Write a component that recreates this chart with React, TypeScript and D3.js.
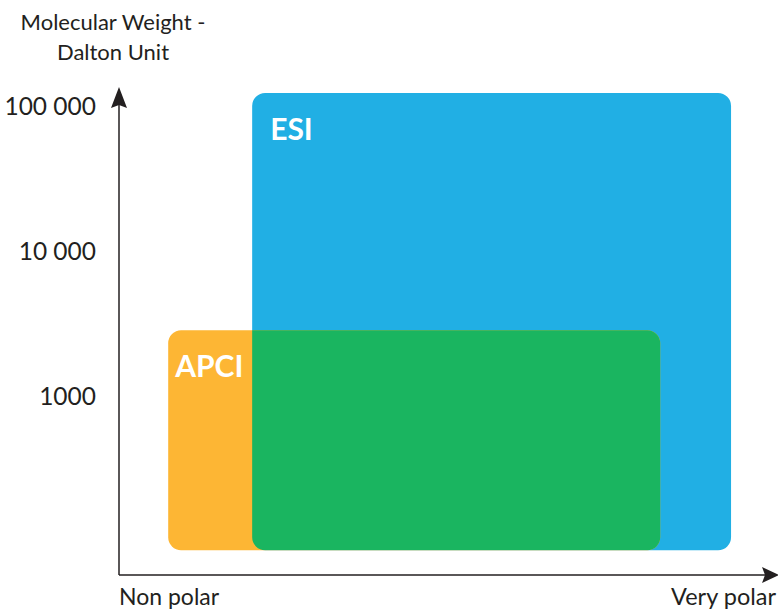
import React from "react";
import * as d3 from "d3";

const W = 778, H = 610;
const yTicks = [1000, 10000, 100000];
const yTickLabels = ["1000", "10 000", "100 000"];
const techniques = ["ESI", "APCI"];
const polarityStart = [20.3, 7.5];
const polarityEnd = [93.3, 82.5];
const weightMin = [85, 85];
const weightMax = [121000, 2800];
const colors = ["#21afe4", "#fdb634"];
const overlapColor = "#1ab560";

const x = d3.scaleLinear().domain([0, 100]).range([119, 775]);
const y = d3.scaleLog().domain([1000, 100000]).range([395, 105]);

function roundRect(x0: number, y0: number, x1: number, y1: number, r: number) {
  const p = d3.path();
  p.moveTo(x0 + r, y0);
  p.lineTo(x1 - r, y0);
  p.arcTo(x1, y0, x1, y0 + r, r);
  p.lineTo(x1, y1 - r);
  p.arcTo(x1, y1, x1 - r, y1, r);
  p.lineTo(x0 + r, y1);
  p.arcTo(x0, y1, x0, y1 - r, r);
  p.lineTo(x0, y0 + r);
  p.arcTo(x0, y0, x0 + r, y0, r);
  p.closePath();
  return p.toString();
}

export default function App() {
  const paths = techniques.map((t, i) =>
    roundRect(x(polarityStart[i]), y(weightMax[i]), x(polarityEnd[i]), y(weightMin[i]), 13)
  );
  const font = "Lato, 'Open Sans', sans-serif";
  const ink = "#231f20";
  const axisY0 = 575;
  return (
    <svg width={W} height={H} style={{ position: "absolute", left: 0, top: 0 }}>
      <defs>
        <clipPath id="esiClip">
          <path d={paths[0]} />
        </clipPath>
      </defs>
      <path d={paths[0]} fill={colors[0]} />
      <path d={paths[1]} fill={colors[1]} />
      <path d={paths[1]} fill={overlapColor} clipPath="url(#esiClip)" />
      <text x={x(polarityStart[0]) + 18} y={y(weightMax[0]) + 47} fill="#fff" fontFamily={font} fontWeight={700} fontSize={30}>
        {techniques[0]}
      </text>
      <text x={x(polarityStart[1]) + 7} y={y(weightMax[1]) + 47} fill="#fff" fontFamily={font} fontWeight={700} fontSize={30}>
        {techniques[1]}
      </text>
      {/* axes */}
      <line x1={119} x2={119} y1={axisY0} y2={100} stroke={ink} strokeWidth={1.5} />
      <path d="M119,87 L127,108 L119,105 L111,108 Z" fill={ink} />
      <line x1={119} x2={765} y1={axisY0} y2={axisY0} stroke={ink} strokeWidth={1.5} />
      <path d="M779,575 L762,567 L765,575 L762,583 Z" fill={ink} />
      {yTicks.map((v, i) => (
        <text key={v} x={96} y={y(v) + 10} textAnchor="end" fill={ink} fontFamily={font} fontSize={24.5}>
          {yTickLabels[i]}
        </text>
      ))}
      <text x={113} y={30} textAnchor="middle" fill={ink} fontFamily={font} fontSize={22}>Molecular Weight -</text>
      <text x={113} y={60} textAnchor="middle" fill={ink} fontFamily={font} fontSize={22}>Dalton Unit</text>
      <text x={119} y={605} fill={ink} fontFamily={font} fontSize={23}>Non polar</text>
      <text x={776} y={605} textAnchor="end" fill={ink} fontFamily={font} fontSize={23.5}>Very polar</text>
    </svg>
  );
}
